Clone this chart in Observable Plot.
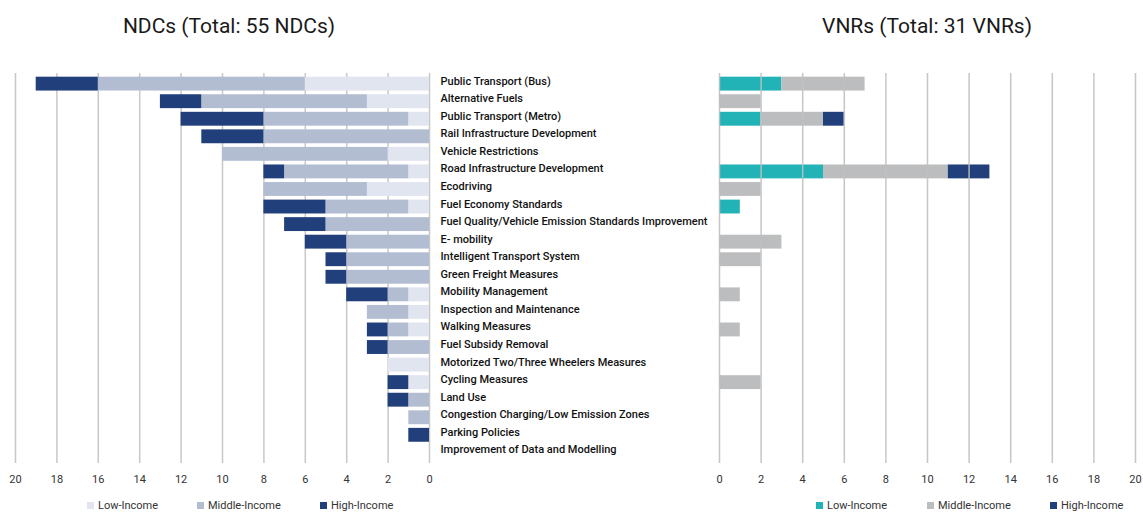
<!DOCTYPE html>
<html>
<head>
<meta charset="utf-8">
<script src="https://cdn.jsdelivr.net/npm/d3@7"></script>
<script src="https://cdn.jsdelivr.net/npm/@observablehq/plot@0.6"></script>
<style>
  html, body { margin: 0; padding: 0; background: #fff; }
  #root { position: relative; width: 1143px; height: 514px; overflow: hidden; font-family: Roboto, sans-serif; }
  .title { position: absolute; top: 14px; font-size: 21px; font-weight: 400; color: #1a1a1a; transform: translateX(-50%); white-space: nowrap; }
  .chart { position: absolute; top: 50px; }
  .legend { position: absolute; top: 499px; font-size: 11px; color: #333; white-space: nowrap; }
  .legend span.sw { display: inline-block; width: 7px; height: 7px; margin-right: 4px; vertical-align: 0px; }
</style>
</head>
<body>
<div id="root"></div>
<script>
const categories = [
  "Public Transport (Bus)", "Alternative Fuels", "Public Transport (Metro)",
  "Rail Infrastructure Development", "Vehicle Restrictions", "Road Infrastructure Development",
  "Ecodriving", "Fuel Economy Standards", "Fuel Quality/Vehicle Emission Standards Improvement",
  "E- mobility", "Intelligent Transport System", "Green Freight Measures",
  "Mobility Management", "Inspection and Maintenance", "Walking Measures",
  "Fuel Subsidy Removal", "Motorized Two/Three Wheelers Measures", "Cycling Measures",
  "Land Use", "Congestion Charging/Low Emission Zones", "Parking Policies",
  "Improvement of Data and Modelling"
];
const groups = ["Low-Income", "Middle-Income", "High-Income"];

const ndcLow    = [6, 3, 1, 0, 2, 1, 3, 1, 0, 0, 0, 0, 1, 1, 1, 0, 2, 1, 0, 0, 0, 0];
const ndcMiddle = [10, 8, 7, 8, 8, 6, 5, 4, 5, 4, 4, 4, 1, 2, 1, 2, 0, 0, 1, 1, 0, 0];
const ndcHigh   = [3, 2, 4, 3, 0, 1, 0, 3, 2, 2, 1, 1, 2, 0, 1, 1, 0, 1, 1, 0, 1, 0];

const vnrLow    = [3, 0, 2, 0, 0, 5, 0, 1, 0, 0, 0, 0, 0, 0, 0, 0, 0, 0, 0, 0, 0, 0];
const vnrMiddle = [4, 2, 3, 0, 0, 6, 2, 0, 0, 3, 2, 0, 1, 0, 1, 0, 0, 2, 0, 0, 0, 0];
const vnrHigh   = [0, 0, 1, 0, 0, 2, 0, 0, 0, 0, 0, 0, 0, 0, 0, 0, 0, 0, 0, 0, 0, 0];

const xTicks = [0, 2, 4, 6, 8, 10, 12, 14, 16, 18, 20];

const ndcColors = ["#e1e5ef", "#b3bdd2", "#213f7b"];
const vnrColors = ["#21b3b6", "#bcbdbf", "#213f7b"];

function toRows(low, mid, high) {
  const rows = [];
  categories.forEach((c, i) => {
    [low, mid, high].forEach((arr, g) => {
      if (arr[i] > 0) rows.push({cat: c, group: groups[g], value: arr[i]});
    });
  });
  return rows;
}

const root = document.getElementById("root");

const left = Plot.plot({
  width: 719, height: 450,
  marginLeft: 15, marginRight: 290, marginTop: 23, marginBottom: 37,
  style: {fontFamily: "Roboto, sans-serif", background: "transparent", color: "#333", overflow: "visible"},
  x: {domain: [0, 20], reverse: true, label: null},
  y: {domain: categories, padding: 0.21, round: false, label: null},
  color: {domain: groups, range: ndcColors},
  marks: [
    Plot.gridX(xTicks, {stroke: "#c8c8c8", strokeOpacity: 1, strokeWidth: 1.5}),
    Plot.barX(toRows(ndcLow, ndcMiddle, ndcHigh), {x: "value", y: "cat", fill: "group"}),
    Plot.axisX(xTicks, {tickSize: 0, tickPadding: 12, fontSize: 11, label: null, fill: "#333"}),
    Plot.axisY({anchor: "right", tickSize: 0, tickPadding: 11, dy: -3, fontSize: 11, fontWeight: 500, fill: "#111", label: null})
  ]
});
left.classList.add("chart");
left.style.left = "0px";
root.appendChild(left);

const right = Plot.plot({
  width: 443, height: 450,
  marginLeft: 19, marginRight: 8, marginTop: 23, marginBottom: 37,
  style: {fontFamily: "Roboto, sans-serif", background: "transparent", color: "#333", overflow: "visible"},
  x: {domain: [0, 20], label: null},
  y: {domain: categories, padding: 0.21, round: false, label: null, axis: null},
  color: {domain: groups, range: vnrColors},
  marks: [
    Plot.barX(toRows(vnrLow, vnrMiddle, vnrHigh), {x: "value", y: "cat", fill: "group"}),
    Plot.gridX(xTicks, {stroke: "#c0c0c0", strokeOpacity: 0.9, strokeWidth: 1.5}),
    Plot.axisX(xTicks, {tickSize: 0, tickPadding: 12, fontSize: 11, label: null, fill: "#333"})
  ]
});
right.classList.add("chart");
right.style.left = "700px";
root.appendChild(right);

function addTitle(text, cx) {
  const d = document.createElement("div");
  d.className = "title";
  d.textContent = text;
  d.style.left = cx + "px";
  root.appendChild(d);
}
addTitle("NDCs (Total: 55 NDCs)", 229);
addTitle("VNRs (Total: 31 VNRs)", 927);

function addLegend(colors, positions) {
  groups.forEach((g, i) => {
    const d = document.createElement("div");
    d.className = "legend";
    d.style.left = positions[i] + "px";
    const sw = document.createElement("span");
    sw.className = "sw";
    sw.style.background = colors[i];
    d.appendChild(sw);
    d.appendChild(document.createTextNode(g));
    root.appendChild(d);
  });
}
addLegend(ndcColors, [87, 197, 320]);
addLegend(vnrColors, [816, 927, 1050]);
</script>
</body>
</html>
